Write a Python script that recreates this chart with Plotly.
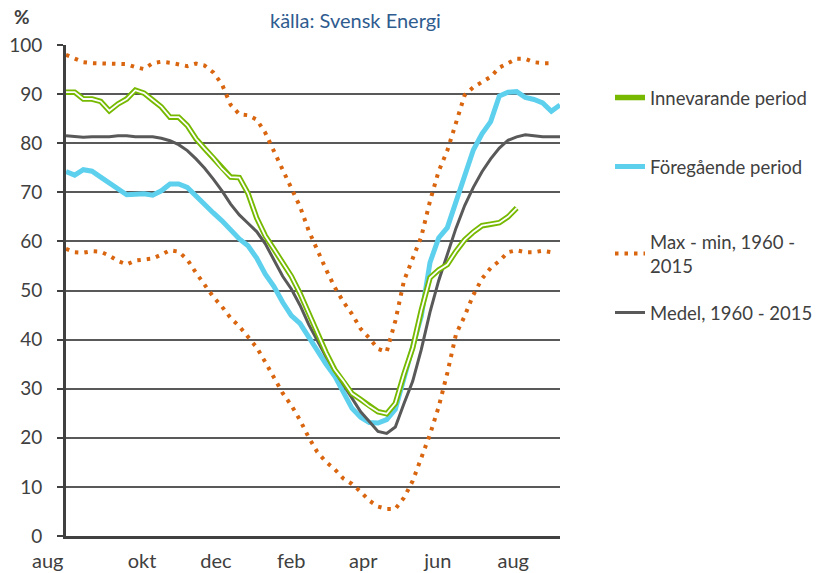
import plotly.graph_objects as go

# week index along the axis
weeks = list(range(58))

max_vals = [98.0, 97.2, 96.5, 96.3, 96.2, 96.1, 96.2, 96.1, 95.5, 95.1,
            96.3, 96.6, 96.4, 96.0, 95.7, 96.2, 95.8, 94.4, 92.0, 87.8,
            85.9, 85.7, 84.8, 82.1, 78.3, 74.6, 71.1, 67.1, 62.2, 58.2,
            54.3, 50.7, 47.7, 45.2, 42.2, 40.3, 38.1, 37.5, 43.8, 52.0,
            56.7, 61.0, 68.2, 74.3, 78.5, 84.4, 89.8, 91.4, 92.5, 93.5,
            95.4, 96.3, 97.2, 97.2, 96.5, 96.3, 96.3, None]

min_vals = [58.5, 57.8, 57.7, 58.0, 57.9, 57.1, 56.0, 55.3, 56.1, 56.3,
            56.5, 57.3, 58.2, 57.9, 56.3, 53.6, 51.0, 48.7, 46.7, 44.4,
            42.7, 40.5, 38.4, 35.4, 32.4, 29.1, 26.6, 23.6, 20.1, 17.1,
            15.1, 13.6, 11.7, 10.6, 9.0, 7.2, 6.0, 5.5, 5.5, 7.8,
            11.2, 16.0, 20.7, 26.3, 33.2, 41.1, 44.8, 49.1, 52.4, 54.6,
            56.0, 57.8, 58.2, 57.8, 57.8, 58.1, 57.8, None]

medel = [81.5, 81.3, 81.2, 81.3, 81.3, 81.3, 81.5, 81.5, 81.3, 81.3,
         81.3, 81.0, 80.5, 79.7, 78.5, 76.8, 74.9, 72.7, 70.3, 67.6,
         65.4, 63.7, 62.0, 59.5, 56.3, 52.9, 50.3, 47.0, 43.1, 39.8,
         36.5, 33.6, 30.8, 27.9, 25.3, 23.3, 21.3, 20.9, 22.2, 27.0,
         31.5, 38.0, 45.6, 52.0, 57.5, 62.7, 67.3, 71.0, 74.2, 76.8,
         79.0, 80.6, 81.3, 81.7, 81.5, 81.3, 81.3, 81.3]

foregaende = [74.2, 73.5, 74.6, 74.3, 73.1, 71.9, 70.4, 69.5, 69.6, 69.7,
              69.4, 70.3, 71.7, 71.7, 71.0, 69.2, 67.3, 65.8, 64.2, 62.2,
              60.5, 59.1, 56.6, 53.3, 50.8, 47.6, 44.9, 43.3, 40.4, 37.8,
              35.0, 32.6, 29.1, 26.0, 24.2, 23.1, 23.0, 23.7, 25.8, 32.0,
              37.8, 44.8, 55.7, 60.7, 62.8, 68.3, 73.6, 78.6, 81.9, 84.4,
              89.6, 90.4, 90.5, 89.3, 88.9, 88.2, 86.5, 87.8]

innevarande = [90.4, 90.4, 89.0, 89.0, 88.5, 86.6, 88.0, 89.0, 90.8, 90.2,
               88.8, 87.4, 85.3, 85.3, 83.6, 80.9, 78.9, 77.0, 74.8, 73.1,
               73.0, 69.8, 64.8, 61.1, 58.4, 55.6, 52.9, 49.4, 45.3, 41.5,
               37.4, 33.9, 31.6, 29.0, 27.8, 26.4, 25.3, 24.9, 27.0, 33.0,
               38.3, 46.0, 52.6, 54.2, 55.3, 58.0, 60.3, 61.9, 63.2, 63.5,
               63.8, 65.0, 66.8]

month_labels = ["aug", "okt", "dec", "feb", "apr", "jun", "aug"]
month_pos = [-2.1, 8.77, 17.3, 26.0, 34.3, 42.9, 51.6]

GREEN = "#76B900"
BLUE = "#5DD0EE"
ORANGE = "#D9650F"
GRAY = "#595959"
TXT = "#404040"
FONT = "Lato, Open Sans, sans-serif"

X0, XW = 66, 494     # plot area left / width in px
Y0, YH = 536, 491    # plot area bottom / height in px

fig = go.Figure()

dot = "3.5px,6px"
fig.add_trace(go.Scatter(x=weeks, y=max_vals, mode="lines", name="Max - min, 1960 -<br>2015",
                         line=dict(color=ORANGE, width=4, dash=dot), legend="legend3",
                         legendgroup="mm"))
fig.add_trace(go.Scatter(x=weeks, y=min_vals, mode="lines", name="min",
                         line=dict(color=ORANGE, width=4, dash=dot), showlegend=False,
                         legendgroup="mm"))
fig.add_trace(go.Scatter(x=weeks, y=foregaende, mode="lines", name="Föregående period",
                         line=dict(color=BLUE, width=5), legend="legend2"))
fig.add_trace(go.Scatter(x=weeks, y=medel, mode="lines", name="Medel, 1960 - 2015",
                         line=dict(color=GRAY, width=3), legend="legend4"))
fig.add_trace(go.Scatter(x=weeks[:len(innevarande)], y=innevarande, mode="lines",
                         name="Innevarande period",
                         line=dict(color=GREEN, width=5.5), legend="legend"))
fig.add_trace(go.Scatter(x=weeks[:len(innevarande)], y=innevarande, mode="lines",
                         name="inner", line=dict(color="white", width=1.8),
                         showlegend=False))

leg_x = (610 - X0) / XW
leg_common = dict(font=dict(family=FONT, size=18.5, color=TXT), bgcolor="rgba(0,0,0,0)",
                  xanchor="left", x=leg_x, itemwidth=30)

def py(px):
    return (Y0 - px) / YH

fig.update_layout(
    width=822, height=573,
    margin=dict(l=66, r=262, t=45, b=37, autoexpand=False),
    paper_bgcolor="white", plot_bgcolor="white",
    font=dict(family=FONT, color=TXT),
    legend=dict(**leg_common, y=py(98), yanchor="middle"),
    legend2=dict(**leg_common, y=py(167), yanchor="middle"),
    legend3=dict(**leg_common, y=py(223), yanchor="top"),
    legend4=dict(**leg_common, y=py(313), yanchor="middle"),
    xaxis=dict(range=[0, 57], showgrid=False, zeroline=False, showline=True,
               linecolor=TXT, linewidth=3, ticks="", automargin=False,
               ticklabelstandoff=5,
               tickvals=month_pos[1:], ticktext=month_labels[1:],
               tickfont=dict(family=FONT, size=20, color=TXT)),
    yaxis=dict(range=[0, 100], tickvals=list(range(0, 101, 10)), showgrid=True,
               gridcolor=GRAY, gridwidth=1.5, zeroline=False, showline=True,
               linecolor=TXT, linewidth=3, ticks="outside", ticklen=6,
               tickcolor=TXT, tickwidth=2, ticklabelstandoff=11, automargin=False,
               tickfont=dict(family=FONT, size=19, color=TXT)),
    annotations=[
        dict(text="källa: Svensk Energi", xref="paper", yref="paper", x=(355 - X0) / XW,
             y=py(20), xanchor="center", yanchor="middle", showarrow=False,
             font=dict(family=FONT, size=20, color="#2F5C8F")),
        dict(text="<b>%</b>", xref="paper", yref="paper", x=(22 - X0) / XW,
             y=py(16), xanchor="center", yanchor="middle", showarrow=False,
             font=dict(family=FONT, size=19, color=TXT)),
        dict(text=month_labels[0], xref="paper", yref="paper", x=(48 - X0) / XW, y=py(560),
             xanchor="center", yanchor="middle", showarrow=False,
             font=dict(family=FONT, size=20, color=TXT)),
    ],
)

fig.write_html("out.html", config={"displayModeBar": False},
               post_script="document.body.style.margin='0';")
